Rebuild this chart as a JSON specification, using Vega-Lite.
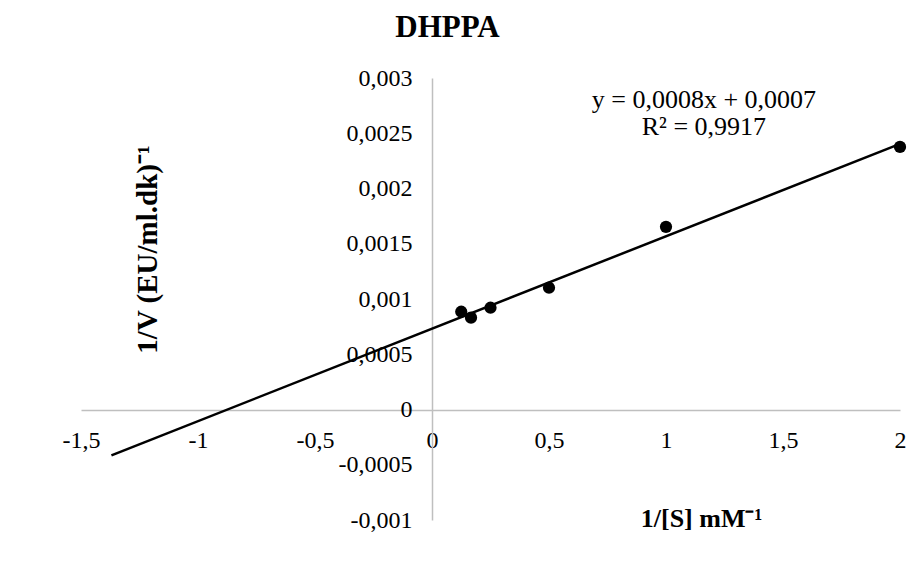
{
  "$schema": "https://vega.github.io/schema/vega-lite/v6.json",
  "autosize": {"type": "none"},
  "padding": {"left": 81, "top": 78, "right": 14, "bottom": 50},
  "width": 819,
  "height": 442,
  "background": "white",
  "config": {
    "font": "Liberation Serif",
    "view": {"stroke": null},
    "locale": {"number": {"decimal": ",", "thousands": ".", "grouping": [3], "currency": ["", " €"], "minus": "-"}}
  },
  "title": {
    "text": "DHPPA",
    "font": "Liberation Serif",
    "fontSize": 31,
    "fontWeight": "bold",
    "color": "black",
    "anchor": "middle",
    "frame": "group",
    "dx": -43,
    "offset": 22
  },
  "datasets": {
    "points": [
      {"x": 0.125, "y": 0.000885},
      {"x": 0.1667, "y": 0.000831},
      {"x": 0.25, "y": 0.000921},
      {"x": 0.5, "y": 0.001102},
      {"x": 1, "y": 0.001653},
      {"x": 2, "y": 0.002376}
    ],
    "notes": [
      {"x": 1.162, "y": 0.0028, "label": "y = 0,0008x + 0,0007"},
      {"x": 1.162, "y": 0.002556, "label": "R² = 0,9917"}
    ]
  },
  "layer": [
    {
      "data": {"name": "points"},
      "transform": [{"regression": "y", "on": "x", "extent": [-1.37, 2]}],
      "mark": {"type": "line", "color": "black", "strokeWidth": 2.5},
      "encoding": {
        "x": {
          "field": "x", "type": "quantitative",
          "scale": {"domain": [-1.5, 2], "nice": false, "zero": false},
          "axis": {
            "orient": "bottom",
            "offset": -110,
            "values": [-1.5, -1, -0.5, 0, 0.5, 1, 1.5, 2],
            "format": "~g",
            "grid": false,
            "ticks": false,
            "tickSize": 0,
            "domainColor": "#bfbfbf",
            "domainWidth": 1.5,
            "labelFont": "Liberation Serif",
            "labelFontSize": 24,
            "labelColor": "black",
            "labelBaseline": "middle",
            "labelPadding": 30,
            "labelFlush": false,
            "labelOverlap": false,
            "labelBound": false,
            "title": "1/[S] mM⁻¹",
            "titleFont": "Liberation Serif",
            "titleFontSize": 26,
            "titleFontWeight": "bold",
            "titleColor": "black",
            "titleX": 620,
            "titleY": 108,
            "titleAlign": "center",
            "titleBaseline": "middle",
            "titleAnchor": null
          }
        },
        "y": {
          "field": "y", "type": "quantitative",
          "scale": {"domain": [-0.001, 0.003], "nice": false, "zero": false},
          "axis": {
            "orient": "left",
            "offset": -351,
            "values": [-0.001, -0.0005, 0, 0.0005, 0.001, 0.0015, 0.002, 0.0025, 0.003],
            "format": "~g",
            "grid": false,
            "ticks": false,
            "tickSize": 0,
            "domainColor": "#bfbfbf",
            "domainWidth": 1.5,
            "labelFont": "Liberation Serif",
            "labelFontSize": 24,
            "labelColor": "black",
            "labelAlign": "right",
            "labelBaseline": "middle",
            "labelPadding": 20,
            "labelFlush": false,
            "labelOverlap": false,
            "labelBound": false,
            "title": "1/V (EU/ml.dk)⁻¹",
            "titleFont": "Liberation Serif",
            "titleFontSize": 29,
            "titleFontWeight": "bold",
            "titleColor": "black",
            "titleAngle": -90,
            "titleX": -285,
            "titleY": 171,
            "titleAlign": "center",
            "titleBaseline": "middle",
            "titleAnchor": null
          }
        }
      }
    },
    {
      "data": {"name": "points"},
      "mark": {"type": "circle", "color": "black", "opacity": 1, "size": 150},
      "encoding": {
        "x": {"field": "x", "type": "quantitative"},
        "y": {"field": "y", "type": "quantitative"}
      }
    },
    {
      "data": {"name": "notes"},
      "mark": {"type": "text", "font": "Liberation Serif", "fontSize": 26, "color": "black", "align": "center", "baseline": "middle"},
      "encoding": {
        "x": {"field": "x", "type": "quantitative"},
        "y": {"field": "y", "type": "quantitative"},
        "text": {"field": "label"}
      }
    }
  ]
}
